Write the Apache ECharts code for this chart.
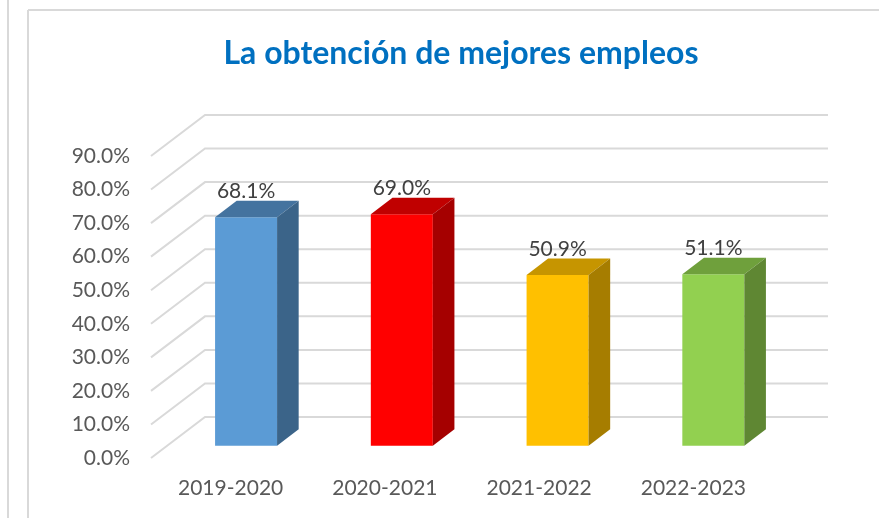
<!DOCTYPE html>
<html>
<head>
<meta charset="utf-8">
<script src="https://cdn.jsdelivr.net/npm/echarts@6/dist/echarts.min.js"></script>
<style>
html, body { margin: 0; padding: 0; background: #fff; }
#chart { width: 879px; height: 518px; }
</style>
</head>
<body>
<div id="chart"></div>
<script>
var titleText = 'La obtención de mejores empleos';
var categories = ['2019-2020', '2020-2021', '2021-2022', '2022-2023'];
var values = [68.1, 69.0, 50.9, 51.1];
var ticks = [0, 10, 20, 30, 40, 50, 60, 70, 80, 90];

// front, top and side colour of each column
var barColors = [
    ['#5B9BD5', '#44739F', '#3B6489'],
    ['#FF0000', '#C00000', '#A50000'],
    ['#FFC000', '#C69500', '#A67D00'],
    ['#92D050', '#6FA03C', '#5F8733']
];

var gridColor = '#D9D9D9';
var textColor = '#595959';
var fontName = 'Lato';

// 3d box of the chart: how far the back wall sits from the front plane
var depthX = 54;
var depthY = 41;
// columns stand between 30% and 70% of that depth
var barNear = 0.3;
var barFar = 0.7;
var barWidth = 62;

function renderWall(params, api) {
    var p = api.coord([0, api.value(1)]);
    var left = api.coord([0, 0])[0] - api.size([1, 0])[0] / 2;
    var right = left + api.size([1, 0])[0] * categories.length;
    return {
        type: 'polyline',
        shape: {
            points: [
                [left, p[1]],
                [left + depthX, p[1] - depthY],
                [right + depthX, p[1] - depthY]
            ]
        },
        style: { stroke: gridColor, lineWidth: 2, fill: null }
    };
}

function renderBar(params, api) {
    var i = api.value(0);
    var base = api.coord([i, 0]);
    var top = api.coord([i, api.value(1)]);
    var x0 = base[0] + depthX * barNear - barWidth / 2 + 1;
    var x1 = x0 + barWidth;
    var y0 = base[1] - depthY * barNear;
    var y1 = top[1] - depthY * barNear;
    var dx = depthX * (barFar - barNear);
    var dy = depthY * (barFar - barNear);
    var c = barColors[i];
    return {
        type: 'group',
        children: [
            {
                type: 'polygon',
                shape: { points: [[x0, y0], [x1, y0], [x1, y1], [x0, y1]] },
                style: { fill: c[0] }
            },
            {
                type: 'polygon',
                shape: { points: [[x0, y1], [x1, y1], [x1 + dx, y1 - dy], [x0 + dx, y1 - dy]] },
                style: { fill: c[1] }
            },
            {
                type: 'polygon',
                shape: { points: [[x1, y0], [x1 + dx, y0 - dy], [x1 + dx, y1 - dy], [x1, y1]] },
                style: { fill: c[2] }
            },
            {
                type: 'text',
                style: {
                    text: api.value(1).toFixed(1) + '%',
                    x: (x0 + x1) / 2,
                    y: y1 - dy + 1,
                    align: 'center',
                    verticalAlign: 'bottom',
                    fill: '#404040',
                    font: '21px ' + fontName
                }
            }
        ]
    };
}

var option = {
    animation: false,
    title: {
        text: titleText,
        left: 456,
        top: 33,
        textAlign: 'center',
        textStyle: {
            color: '#0070C0',
            fontFamily: fontName,
            fontWeight: 'bold',
            fontSize: 32
        }
    },
    graphic: [
        { type: 'line', shape: { x1: 8, y1: 0, x2: 8, y2: 518 }, style: { stroke: gridColor, lineWidth: 2 } },
        { type: 'line', shape: { x1: 28, y1: 10, x2: 28, y2: 518 }, style: { stroke: gridColor, lineWidth: 2 } },
        { type: 'line', shape: { x1: 28, y1: 10, x2: 879, y2: 10 }, style: { stroke: gridColor, lineWidth: 2 } }
    ],
    grid: [
        { left: 151, width: 623, top: 156, height: 302 },
        // only carries the year labels, they are spaced a bit tighter than the columns
        { left: 153.5, width: 617, top: 156, height: 302 }
    ],
    xAxis: [
        {
            type: 'category',
            data: categories,
            axisLine: { show: false },
            axisTick: { show: false },
            axisLabel: { show: false }
        },
        {
            type: 'category',
            gridIndex: 1,
            data: categories,
            axisLine: { show: false },
            axisTick: { show: false },
            axisLabel: {
                margin: 20,
                color: textColor,
                fontFamily: fontName,
                fontSize: 21
            }
        }
    ],
    yAxis: [
        {
            type: 'value',
            min: 0,
            max: 90,
            interval: 10,
            axisLine: { show: false },
            axisTick: { show: false },
            splitLine: { show: false },
            axisLabel: {
                margin: 21,
                color: textColor,
                fontFamily: fontName,
                fontSize: 21,
                formatter: function (val) {
                    return val.toFixed(1) + '%';
                }
            }
        },
        {
            type: 'value',
            gridIndex: 1,
            min: 0,
            max: 90,
            show: false
        }
    ],
    series: [
        {
            type: 'custom',
            renderItem: renderWall,
            silent: true,
            z: 1,
            data: ticks.map(function (t) { return [0, t]; })
        },
        {
            type: 'custom',
            renderItem: renderBar,
            silent: true,
            z: 2,
            data: values.map(function (v, i) { return [i, v]; })
        }
    ]
};

var chart = echarts.init(document.getElementById('chart'));
chart.setOption(option);
</script>
</body>
</html>
